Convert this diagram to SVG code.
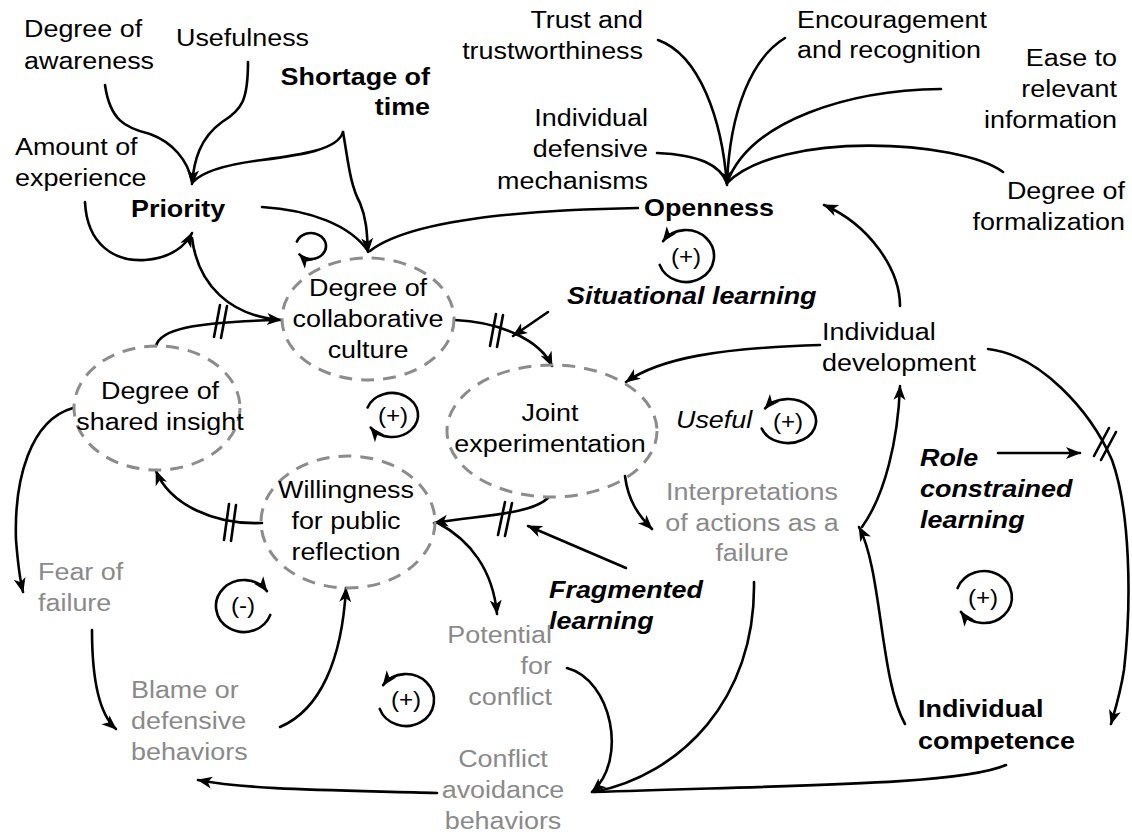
<svg xmlns="http://www.w3.org/2000/svg" width="1132" height="834" viewBox="0 0 1132 834">
  <defs>
    <style>
      .lbl { font-family: "Liberation Sans", Arial, sans-serif; font-size: 23px; fill: #000; }
      .b { font-weight: bold; }
      .i { font-style: italic; }
      .g { fill: #8a8a8a; }
      .mid { text-anchor: middle; }
      .end { text-anchor: end; }
      .sign { font-family: "Liberation Sans", Arial, sans-serif; font-size: 22px; text-anchor: middle; fill: #000; }
      .ell { fill: none; stroke: #8c8c8c; stroke-width: 3; stroke-dasharray: 13 9; }
      .c { fill: none; stroke: #000; stroke-width: 2.6; stroke-linecap: round; }
      .arr { marker-end: url(#ah); }
      .tick { stroke: #000; stroke-width: 2.6; stroke-linecap: round; }
    </style>
    <marker id="ah" markerUnits="userSpaceOnUse" markerWidth="16" markerHeight="16" viewBox="0 0 16 16" refX="14" refY="8" orient="auto">
      <path d="M0,2 L15,8 L0,14 L4,8 z" fill="#000"/>
    </marker>
  </defs>
  <rect width="1132" height="834" fill="#fff"/>

  <!-- connectors -->
  <g id="connectors">
    <!-- inputs to Priority -->
    <path class="c" d="M105 85 C110 120 125 128 150 134 C172 142 188 160 192 182"/>
    <path class="c arr" d="M248 62 C248 100 242 110 222 122 C200 138 194 160 192 184"/>
    <path class="c" d="M343 132 C338 150 300 155 262 160 C222 165 202 172 193 182"/>
    <path class="c arr" d="M85 202 C87 245 115 262 145 260 C172 258 186 245 192 233"/>
    <!-- inputs to collaborative culture (top) -->
    <path class="c arr" d="M343 132 C348 160 350 185 360 203 C367 220 367 235 368 252"/>
    <path class="c" d="M262 207 C310 210 350 225 368 251"/>
    <path class="c" d="M638 208 C520 210 410 220 370 251"/>
    <!-- Priority / shared insight to collaborative culture (left) -->
    <path class="c arr" d="M192 238 C198 285 230 316 281 320"/>
    <path class="c" d="M156 346 C160 330 190 322 279 320"/>
    <line class="tick" x1="214" y1="337" x2="220" y2="305"/>
    <line class="tick" x1="221" y1="338" x2="227" y2="306"/>
    <!-- collaborative culture to joint experimentation -->
    <path class="c arr" d="M455 320 C500 322 540 340 552 366"/>
    <line class="tick" x1="490" y1="346" x2="496" y2="314"/>
    <line class="tick" x1="497" y1="347" x2="503" y2="315"/>
    <path class="c arr" d="M548 312 L513 336"/>
    <!-- individual development -->
    <path class="c arr" d="M820 345 C720 348 660 358 626 382"/>
    <path class="c arr" d="M900 306 C900 270 870 225 824 205"/>
    <path class="c arr" d="M988 349 C1040 355 1090 410 1112 460 C1130 510 1132 600 1124 670 C1120 695 1115 710 1111 724"/>
    <line class="tick" x1="1094" y1="456" x2="1109" y2="428"/>
    <line class="tick" x1="1101" y1="460" x2="1116" y2="432"/>
    <path class="c arr" d="M998 453 L1080 453"/>
    <!-- individual competence -->
    <path class="c arr" d="M905 724 C880 680 882 570 859 527"/>
    <path class="c arr" d="M862 527 C885 495 898 440 900 386"/>
    <!-- joint experimentation -->
    <path class="c arr" d="M625 476 C628 500 638 515 652 529"/>
    <path class="c arr" d="M548 498 C530 515 480 515 434 523"/>
    <line class="tick" x1="498" y1="535" x2="505" y2="502"/>
    <line class="tick" x1="505" y1="536" x2="512" y2="503"/>
    <path class="c arr" d="M626 568 L528 526"/>
    <!-- willingness for public reflection -->
    <path class="c arr" d="M438 523 C470 540 493 570 497 614"/>
    <path class="c arr" d="M262 523 C215 525 170 505 156 471"/>
    <line class="tick" x1="224" y1="540" x2="229" y2="504"/>
    <line class="tick" x1="231" y1="541" x2="236" y2="505"/>
    <!-- lower loop -->
    <path class="c arr" d="M73 408 C30 420 14 480 16 540 C18 565 20 580 23 592"/>
    <path class="c arr" d="M92 630 C92 680 100 715 116 729"/>
    <path class="c arr" d="M280 727 C320 710 342 660 346 588"/>
    <path class="c arr" d="M567 668 C612 680 628 760 592 792"/>
    <path class="c" d="M754 582 C756 700 680 775 594 792"/>
    <path class="c" d="M1006 765 C960 785 800 785 594 792"/>
    <path class="c arr" d="M437 793 C330 790 250 790 198 780"/>
    <!-- inputs to Openness -->
    <path class="c arr" d="M658 40 C700 55 722 120 727 185"/>
    <path class="c" d="M785 38 C752 58 730 110 727 183"/>
    <path class="c" d="M941 89 C850 90 750 120 727 183"/>
    <path class="c" d="M657 153 C700 155 720 165 727 183"/>
    <path class="c" d="M1003 172 C960 140 780 130 727 183"/>
  </g>

  <!-- feedback loop symbols -->
  <g id="loop-openness">
    <path class="c arr" d="M659.7 264.9 A28 26 0 1 0 663.1 241.1"/>
    <text class="sign" transform="matrix(1.1 0 0 1 686 264)">(+)</text>
  </g>
  <g id="loop-center">
    <path class="c arr" d="M367.6 407.5 A26 22 0 1 1 370.7 427.6"/>
    <text class="sign" transform="matrix(1.1 0 0 1 393 423)">(+)</text>
  </g>
  <g id="loop-useful">
    <path class="c arr" d="M761.7 428.5 A28 22 0 1 0 765.1 408.4"/>
    <text class="sign" transform="matrix(1.1 0 0 1 788 429)">(+)</text>
  </g>
  <g id="loop-negative">
    <path class="c arr" d="M270.3 614.9 A28 26 0 1 1 266.9 591.1"/>
    <text class="sign" transform="matrix(1.1 0 0 1 243 613)">(-)</text>
  </g>
  <g id="loop-conflict">
    <path class="c arr" d="M379.7 708.9 A28 26 0 1 0 383.1 685.1"/>
    <text class="sign" transform="matrix(1.1 0 0 1 406 707)">(+)</text>
  </g>
  <g id="loop-role">
    <path class="c arr" d="M957.6 588.1 A28 26 0 1 1 960.9 611.9"/>
    <text class="sign" transform="matrix(1.1 0 0 1 983 605)">(+)</text>
  </g>
  <g id="loop-small">
    <path class="c arr" d="M296.9 241.6 A15 13 0 1 1 299.5 254.4"/>
  </g>

  <!-- nodes -->
  <g id="n-awareness"><text class="lbl" transform="matrix(1.17 0 0 1 24 37)"><tspan x="0">Degree of</tspan><tspan x="0" dy="32">awareness</tspan></text></g>
  <g id="n-usefulness"><text class="lbl" transform="matrix(1.17 0 0 1 176 46)">Usefulness</text></g>
  <g id="n-shortage"><text class="lbl b end" transform="matrix(1.17 0 0 1 430 85)"><tspan x="0">Shortage of</tspan><tspan x="0" dy="30">time</tspan></text></g>
  <g id="n-amount"><text class="lbl" transform="matrix(1.17 0 0 1 15 155)"><tspan x="0">Amount of</tspan><tspan x="0" dy="31">experience</tspan></text></g>
  <g id="n-priority"><text class="lbl b" transform="matrix(1.17 0 0 1 131 217)">Priority</text></g>
  <g id="n-trust"><text class="lbl end" transform="matrix(1.17 0 0 1 643 28)"><tspan x="0">Trust and</tspan><tspan x="0" dy="31">trustworthiness</tspan></text></g>
  <g id="n-encouragement"><text class="lbl" transform="matrix(1.17 0 0 1 797 28)"><tspan x="0">Encouragement</tspan><tspan x="0" dy="30">and recognition</tspan></text></g>
  <g id="n-ease"><text class="lbl end" transform="matrix(1.17 0 0 1 1117 66)"><tspan x="0">Ease to</tspan><tspan x="0" dy="31">relevant</tspan><tspan x="0" dy="31">information</tspan></text></g>
  <g id="n-defensive"><text class="lbl end" transform="matrix(1.17 0 0 1 648 126)"><tspan x="0">Individual</tspan><tspan x="0" dy="31">defensive</tspan><tspan x="0" dy="32">mechanisms</tspan></text></g>
  <g id="n-formalization"><text class="lbl end" transform="matrix(1.17 0 0 1 1125 199)"><tspan x="0">Degree of</tspan><tspan x="0" dy="31">formalization</tspan></text></g>
  <g id="n-openness"><text class="lbl b" transform="matrix(1.17 0 0 1 644 216)">Openness</text></g>
  <g id="n-situational"><text class="lbl b i" transform="matrix(1.17 0 0 1 567 304)">Situational learning</text></g>

  <g id="n-collaborative">
    <ellipse class="ell" cx="368" cy="319" rx="86" ry="61"/>
    <text class="lbl mid" transform="matrix(1.17 0 0 1 368 296)"><tspan x="0">Degree of</tspan><tspan x="0" dy="31">collaborative</tspan><tspan x="0" dy="31">culture</tspan></text>
  </g>
  <g id="n-insight">
    <ellipse class="ell" cx="157" cy="408" rx="83" ry="62"/>
    <text class="lbl mid" transform="matrix(1.17 0 0 1 160 399)"><tspan x="0">Degree of</tspan><tspan x="0" dy="31">shared insight</tspan></text>
  </g>
  <g id="n-joint">
    <ellipse class="ell" cx="552" cy="431" rx="105" ry="66"/>
    <text class="lbl mid" transform="matrix(1.17 0 0 1 550 421)"><tspan x="0">Joint</tspan><tspan x="0" dy="31">experimentation</tspan></text>
  </g>
  <g id="n-willingness">
    <ellipse class="ell" cx="348" cy="522" rx="87" ry="66"/>
    <text class="lbl mid" transform="matrix(1.17 0 0 1 346 498)"><tspan x="0">Willingness</tspan><tspan x="0" dy="31">for public</tspan><tspan x="0" dy="31">reflection</tspan></text>
  </g>

  <g id="n-development"><text class="lbl" transform="matrix(1.17 0 0 1 822 340)"><tspan x="0">Individual</tspan><tspan x="0" dy="31">development</tspan></text></g>
  <g id="n-useful"><text class="lbl i" transform="matrix(1.17 0 0 1 676 428)">Useful</text></g>
  <g id="n-role"><text class="lbl b i" transform="matrix(1.17 0 0 1 920 466)"><tspan x="0">Role</tspan><tspan x="0" dy="31">constrained</tspan><tspan x="0" dy="31">learning</tspan></text></g>
  <g id="n-interpretations"><text class="lbl g mid" transform="matrix(1.17 0 0 1 752 500)"><tspan x="0">Interpretations</tspan><tspan x="0" dy="31">of actions as a</tspan><tspan x="0" dy="30">failure</tspan></text></g>
  <g id="n-fragmented"><text class="lbl b i" transform="matrix(1.17 0 0 1 549 598)"><tspan x="0">Fragmented</tspan><tspan x="0" dy="31">learning</tspan></text></g>
  <g id="n-potential"><text class="lbl g end" transform="matrix(1.17 0 0 1 552 643)"><tspan x="0">Potential</tspan><tspan x="0" dy="31">for</tspan><tspan x="0" dy="31">conflict</tspan></text></g>
  <g id="n-fear"><text class="lbl g" transform="matrix(1.17 0 0 1 38 580)"><tspan x="0">Fear of</tspan><tspan x="0" dy="31">failure</tspan></text></g>
  <g id="n-blame"><text class="lbl g" transform="matrix(1.17 0 0 1 131 698)"><tspan x="0">Blame or</tspan><tspan x="0" dy="31">defensive</tspan><tspan x="0" dy="31">behaviors</tspan></text></g>
  <g id="n-avoidance"><text class="lbl g mid" transform="matrix(1.17 0 0 1 503 767)"><tspan x="0">Conflict</tspan><tspan x="0" dy="31">avoidance</tspan><tspan x="0" dy="31">behaviors</tspan></text></g>
  <g id="n-competence"><text class="lbl b" transform="matrix(1.17 0 0 1 918 717)"><tspan x="0">Individual</tspan><tspan x="0" dy="32">competence</tspan></text></g>
</svg>
